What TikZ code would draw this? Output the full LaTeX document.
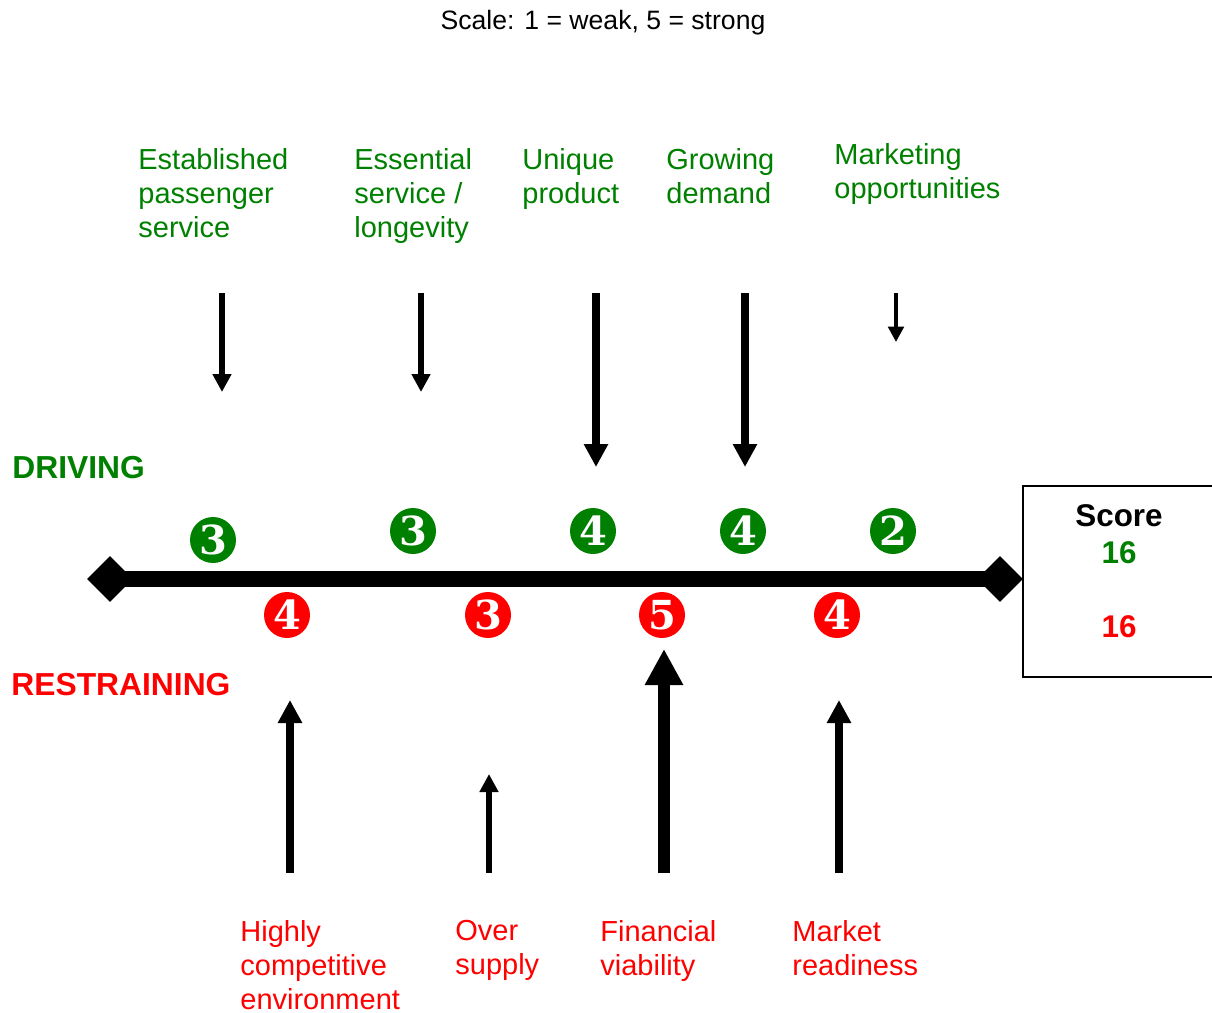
\documentclass[tikz,border=0pt]{standalone}
\usepackage{fontspec}
\setmainfont{Liberation Sans}
\newfontfamily\ratingfont{DejaVu Serif}
\usetikzlibrary{arrows.meta,shapes.geometric}

\definecolor{drivegreen}{RGB}{0,128,0}
\definecolor{restrainred}{RGB}{255,0,0}

\tikzset{
  forcelabel/.style={anchor=north west,inner sep=0pt,align=left,font=\fontsize{14.5}{17}\selectfont},
  side/.style={anchor=base west,inner sep=0pt,font=\fontsize{15.9}{18}\selectfont\bfseries},
  total/.style={anchor=base,inner sep=0pt,font=\fontsize{15.7}{18}\selectfont\bfseries},
  rating/.style={circle,fill=#1,text=white,minimum size=23pt,inner sep=0pt,font=\ratingfont\fontsize{20}{20}\selectfont\bfseries},
  pull/.style 2 args={line width=#1,-{Triangle[length=#2,width=#2]}},
  endcap/.style={diamond,fill=black,inner sep=0pt,minimum size=23pt},
}

\begin{document}
\begin{tikzpicture}[x=0.5pt,y=-0.5pt]
        \useasboundingbox (0,0) rectangle (1212,1013);

        % the scale
        \node[anchor=base,inner sep=0pt,font=\fontsize{13.3}{16}\selectfont] (scale) at (603,29) {Scale: 1 = weak, 5 = strong};

        % draw the axis
        \node[endcap] (leftend) at (110,579) {};
        \node[endcap] (rightend) at (1000,579) {};
        \draw[line width=8pt] (leftend.center) -- (rightend.center);

        \node[side,text=drivegreen] (driving) at (12,478) {DRIVING};
        \node[side,text=restrainred] (restraining) at (11,695) {RESTRAINING};

        % driving forces
        \foreach \n/\lx/\ly/\txt in {
            1/138/148/{Established\\passenger\\service},
            2/354/148/{Essential\\service /\\longevity},
            3/522/148/{Unique\\product},
            4/666/148/{Growing\\demand},
            5/834/143/{Marketing\\opportunities}}
                \node[forcelabel,text=drivegreen] (drive\n) at (\lx,\ly) {\txt};

        \foreach \n/\x/\tip/\w/\h in {1/222/392/3pt/9pt, 2/421/392/3pt/9pt, 3/596/467/4pt/11.5pt, 4/745/467/4pt/11.5pt, 5/896/342/2pt/7.7pt}
        {
                \coordinate (dtail\n) at (\x,293);
                \coordinate (dhead\n) at (\x,\tip);
                \draw[pull={\w}{\h}] (dtail\n) -- (dhead\n);
        }

        \foreach \n/\x/\y/\r in {1/213/540/3, 2/413/531/3, 3/593/531/4, 4/743/531/4, 5/893/531/2}
                \node[rating=drivegreen] (drate\n) at (\x,\y) {\r};

        % restraining forces
        \foreach \n/\lx/\ly/\txt in {
            1/240/920/{Highly\\competitive\\environment},
            2/455/920/{Over\\supply},
            3/600/920/{Financial\\viability},
            4/792/920/{Market\\readiness}}
                \node[forcelabel,text=restrainred] (restrain\n) at (\lx,\ly) {\txt};

        \foreach \n/\x/\tip/\w/\h in {1/290/700/4pt/11.5pt, 2/489/774/3pt/9pt, 3/664/649/6pt/18pt, 4/839/700/4pt/11.5pt}
        {
                \coordinate (rtail\n) at (\x,873);
                \coordinate (rhead\n) at (\x,\tip);
                \draw[pull={\w}{\h}] (rtail\n) -- (rhead\n);
        }

        \foreach \n/\x/\y/\r in {1/287/615/4, 2/488/615/3, 3/662/615/5, 4/837/615/4}
                \node[rating=restrainred] (rrate\n) at (\x,\y) {\r};

        % the score box
        \draw[line width=1pt] (1212,486) -- (1023,486) -- (1023,677) -- (1212,677);
        \node[total] (score) at (1119,526) {Score};
        \node[total,text=drivegreen] (drivetotal) at (1119,563) {16};
        \node[total,text=restrainred] (restraintotal) at (1119,637) {16};
\end{tikzpicture}
\end{document}
